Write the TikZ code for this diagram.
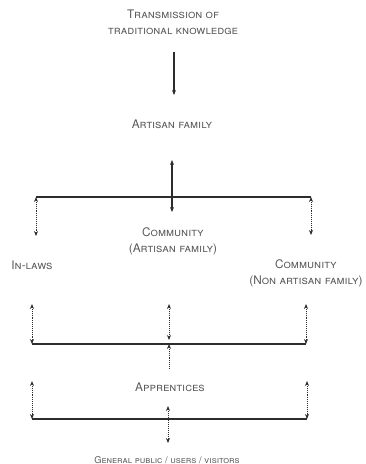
\documentclass[tikz,border=0pt]{standalone}
\usepackage{fontspec}
\setmainfont{TeX Gyre Heros}
\usetikzlibrary{arrows.meta,positioning}
\definecolor{mytext}{RGB}{90,90,90}
\definecolor{myline}{RGB}{45,45,45}

\begin{document}
\begin{tikzpicture}[x=1pt, y=-1pt,
  every node/.style={font=\fontsize{11.8}{16}\selectfont\scshape, text=mytext, align=center, inner sep=1pt},
  small/.style={font=\fontsize{9.3}{12}\selectfont\scshape},
  bus/.style={draw=myline, line width=1.2pt},
  arr/.style={draw=myline, line width=1.1pt, -{Stealth[length=5pt, width=4pt]}},
  darr/.style={draw=myline, line width=1.1pt, {Stealth[length=5pt, width=4pt]}-{Stealth[length=5pt, width=4pt]}},
  dotarr/.style={draw=myline, line width=0.9pt, densely dotted, {Stealth[length=5pt, width=4pt]}-{Stealth[length=5pt, width=4pt]}},
  dotup/.style={draw=myline, line width=0.9pt, densely dotted, {Stealth[length=5pt, width=4pt]}-}
]
\useasboundingbox (0,0) rectangle (365,464);

% texts
\node (trans) at (173,22) {Transmission of\\traditional knowledge};
\node (artisan) at (172,124) {Artisan family};
\node (commart) at (173,241) {Community\\(Artisan family)};
\node (inlaws) at (32,265) {In-laws};
\node (commnon) at (306,273) {Community\\(Non artisan family)};
\node (appr) at (170,387) {Apprentices};
\node[small] (public) at (167,460) {General public / users / visitors};

% connector ends
\coordinate (t0) at (174,52);
\coordinate (t1) at (174,95);
\coordinate (c0) at (172,160);
\coordinate (c1) at (172,212);
\coordinate (busAl) at (36,197);
\coordinate (busAr) at (311,197);
\coordinate (dAl) at (36,236);
\coordinate (dAr) at (311,235);
\coordinate (busBl) at (32,344);
\coordinate (busBr) at (306,344);
\coordinate (uBl) at (32,304);
\coordinate (uBm) at (169,304);
\coordinate (uBr) at (306,304);
\coordinate (lBm) at (169,340);
\coordinate (busBm) at (169,344);
\coordinate (sBm) at (169,368);
\coordinate (busCl) at (32,419);
\coordinate (busCr) at (307,419);
\coordinate (uCl) at (32,381);
\coordinate (uCr) at (307,381);
\coordinate (pC0) at (168,406);
\coordinate (pC1) at (168,443);

% top
\draw[arr] (t0) -- (t1);
\draw[bus] (busAl) -- (busAr);
\draw[darr] (c0) -- (c1);
\draw[dotarr] (busAl) -- (dAl);
\draw[dotarr] (busAr) -- (dAr);

% middle
\draw[bus] (busBl) -- (busBr);
\draw[dotarr] (uBl) -- (busBl);
\draw[dotarr] (uBm) -- (lBm);
\draw[dotarr] (uBr) -- (busBr);
\draw[dotup] (busBm) -- (sBm);

% bottom
\draw[bus] (busCl) -- (busCr);
\draw[dotarr] (uCl) -- (busCl);
\draw[dotarr] (uCr) -- (busCr);
\draw[dotarr] (pC0) -- (pC1);
\end{tikzpicture}
\end{document}
